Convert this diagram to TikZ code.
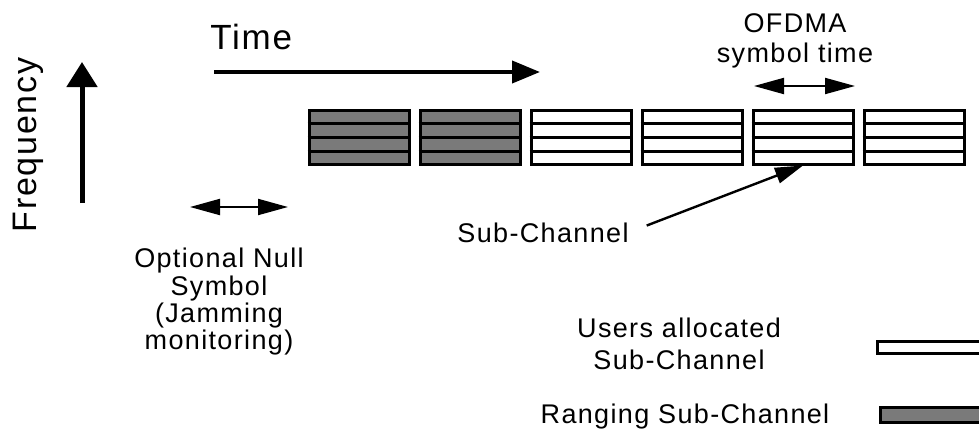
\documentclass[tikz,border=0pt]{standalone}
\usepackage{fontspec}
\setmainfont{Liberation Sans}[LetterSpace=5]
\usetikzlibrary{calc,arrows.meta}
\tikzset{
	slot/.style={draw, line width=1.5pt, fill=white, minimum width=50pt, minimum height=26.75pt, inner sep=0pt},
	ranging/.style={slot, fill=black!52},
	bigtext/.style={font=\fontsize{#1}{20}\selectfont, inner sep=0pt},
	smalltext/.style={font=\fontsize{13.5}{#1}\selectfont, inner sep=0pt, align=center},
	spanarrow/.style={line width=1pt, {Triangle[length=15pt, width=8pt]}-{Triangle[length=15pt, width=8pt]}},
	pointer/.style={line width=1.2pt, -{Triangle[length=14pt, width=8pt]}}
}

\begin{document}
\begin{tikzpicture}[x=0.5pt, y=-0.5pt]
			%%%%% START %%%%%
			\useasboundingbox (0, 0) rectangle (979, 434);
			
			\node[bigtext=17pt, rotate=90, anchor=base] (freq) at (36, 145) {Frequency};
			\coordinate (fLow) at (82, 203);
			\coordinate (fHigh) at (82, 62);
			\draw[line width=2.5pt, -{Triangle[length=12.5pt, width=15pt]}] (fLow) -- (fHigh);
			
			\node[bigtext=17.5pt, anchor=base west] (time) at (210, 49) {Time};
			\coordinate (tStart) at (214, 72);
			\coordinate (tEnd) at (540, 72);
			\draw[line width=2pt, -{Triangle[length=14pt, width=11pt]}] (tStart) -- (tEnd);
			
			\foreach \i/\kind in {1/ranging, 2/ranging, 3/slot, 4/slot, 5/slot, 6/slot} {
				\node[\kind] (blk\i) at ({359 + 111*(\i-1)}, 137.25) {};
				\foreach \f in {0.25, 0.5, 0.75}
					\draw[line width=1.5pt] ($(blk\i.north west)!\f!(blk\i.south west)$) -- ($(blk\i.north east)!\f!(blk\i.south east)$);
			}
			
			\node[smalltext=15pt, anchor=north] (ofdma) at (795, 13) {OFDMA\\symbol time};
			\coordinate (oL) at (754, 86);
			\coordinate (oR) at (855, 86);
			\draw[spanarrow] (oL) -- (oR);
			
			\coordinate (nullL) at (190, 207);
			\coordinate (nullR) at (288, 207);
			\draw[spanarrow] (nullL) -- (nullR);
			\node[smalltext=12.5pt, anchor=north] (null) at (219, 248) {Optional Null\\Symbol\\(Jamming\\monitoring)};
			
			\node[smalltext=15pt, anchor=base] (subch) at (543, 242) {Sub-Channel};
			\draw[pointer, shorten <=9.5pt] (subch.east) -- (blk5.south);
			
			\node[smalltext=16pt, anchor=north] (users) at (679, 318) {Users allocated\\Sub-Channel};
			\draw[line width=1.5pt, fill=white] (877.5, 341.5) rectangle (990, 353.5);
			
			\node[smalltext=15pt, anchor=base] (rng) at (685, 423) {Ranging Sub-Channel};
			\draw[line width=1.5pt, fill=black!52] (880.5, 407.5) rectangle (990, 422.5);
			
			%%%%% END %%%%%
\end{tikzpicture}
\end{document}
